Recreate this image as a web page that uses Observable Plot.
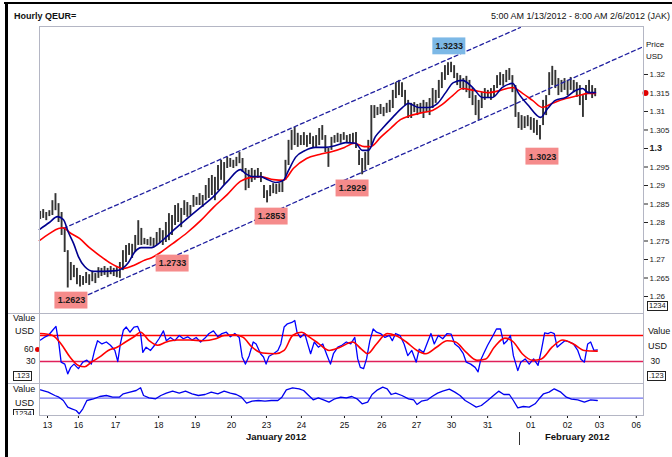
<!DOCTYPE html>
<html><head><meta charset="utf-8">
<script src="https://cdn.jsdelivr.net/npm/d3@7"></script>
<script src="https://cdn.jsdelivr.net/npm/@observablehq/plot@0.6"></script>
<style>
html,body{margin:0;padding:0;background:#fff;}
#wrap{position:relative;width:672px;height:457px;overflow:hidden;font-family:"Liberation Sans",Arial,sans-serif;color:#111;}
.ln{position:absolute;background:#b4b6c4;}
.t{position:absolute;font-size:8.5px;line-height:10px;white-space:nowrap;color:#111;}
.box{position:absolute;border:1px solid #222;padding:0 1px;font-size:7.5px;line-height:8px;color:#111;background:#fff;}
svg.plot{position:absolute;left:0;}
</style></head><body><div id="wrap"></div>
<script>
// ---------- DATA ----------
const barStart = -0.2, barStep = 1/12; // trading-day units, 2-hour bars
const hi = [1.2830,1.2835,1.2827,1.2832,1.2859,1.2878,1.2851,1.2827,1.2784,1.2724,1.2692,1.2684,1.2676,1.2657,1.2654,1.2665,1.2659,1.2668,1.2662,1.2678,1.2676,1.2681,1.2676,1.2681,1.2676,1.2678,1.2692,1.2724,1.2738,1.2743,1.2741,1.2765,1.2805,1.2784,1.2757,1.2754,1.2760,1.2757,1.2773,1.2784,1.2778,1.2800,1.2824,1.2819,1.2846,1.2851,1.2838,1.2859,1.2854,1.2846,1.2873,1.2868,1.2878,1.2873,1.2900,1.2919,1.2927,1.2922,1.2954,1.2968,1.2962,1.2976,1.2973,1.2968,1.2976,1.2989,1.2973,1.2946,1.2941,1.2946,1.2941,1.2946,1.2935,1.2900,1.2886,1.2900,1.2905,1.2903,1.2905,1.2914,1.2968,1.3022,1.3049,1.3057,1.3041,1.3035,1.3043,1.3035,1.3041,1.3032,1.3035,1.3054,1.3062,1.3035,1.3000,1.3030,1.3035,1.3041,1.3038,1.3043,1.3035,1.3038,1.3041,1.3043,1.2995,1.2973,1.2989,1.3022,1.3116,1.3116,1.3111,1.3119,1.3111,1.3122,1.3130,1.3157,1.3178,1.3184,1.3178,1.3157,1.3130,1.3122,1.3124,1.3119,1.3122,1.3130,1.3124,1.3135,1.3162,1.3157,1.3184,1.3205,1.3224,1.3232,1.3233,1.3224,1.3203,1.3197,1.3189,1.3195,1.3184,1.3162,1.3143,1.3130,1.3151,1.3162,1.3157,1.3162,1.3170,1.3197,1.3205,1.3200,1.3211,1.3216,1.3197,1.3170,1.3097,1.3089,1.3086,1.3089,1.3084,1.3081,1.3076,1.3062,1.3130,1.3143,1.3205,1.3222,1.3211,1.3189,1.3184,1.3189,1.3184,1.3192,1.3184,1.3178,1.3170,1.3143,1.3170,1.3184,1.3170,1.3162];
const lo = [1.2808,1.2811,1.2805,1.2816,1.2819,1.2832,1.2800,1.2765,1.2719,1.2623,1.2643,1.2651,1.2632,1.2626,1.2630,1.2635,1.2630,1.2640,1.2635,1.2649,1.2654,1.2657,1.2651,1.2659,1.2654,1.2651,1.2649,1.2670,1.2692,1.2711,1.2703,1.2719,1.2738,1.2738,1.2740,1.2738,1.2736,1.2733,1.2738,1.2743,1.2738,1.2746,1.2751,1.2765,1.2792,1.2800,1.2786,1.2819,1.2814,1.2819,1.2841,1.2846,1.2846,1.2841,1.2859,1.2865,1.2873,1.2859,1.2886,1.2914,1.2900,1.2946,1.2949,1.2946,1.2951,1.2959,1.2935,1.2886,1.2892,1.2908,1.2914,1.2919,1.2908,1.2865,1.2853,1.2870,1.2878,1.2876,1.2881,1.2881,1.2914,1.2954,1.2995,1.3008,1.3003,1.3008,1.3008,1.3003,1.3011,1.3000,1.3003,1.3008,1.3022,1.2989,1.2949,1.2995,1.3014,1.3016,1.3014,1.3022,1.3014,1.3016,1.3011,1.3000,1.2954,1.2929,1.2941,1.2954,1.3008,1.3081,1.3089,1.3092,1.3086,1.3095,1.3097,1.3108,1.3135,1.3143,1.3138,1.3116,1.3081,1.3081,1.3097,1.3089,1.3095,1.3081,1.3097,1.3089,1.3108,1.3122,1.3135,1.3162,1.3184,1.3197,1.3205,1.3189,1.3170,1.3162,1.3157,1.3151,1.3135,1.3116,1.3089,1.3076,1.3108,1.3130,1.3135,1.3130,1.3138,1.3162,1.3170,1.3168,1.3178,1.3184,1.3151,1.3084,1.3054,1.3049,1.3054,1.3059,1.3049,1.3041,1.3035,1.3023,1.3062,1.3089,1.3143,1.3170,1.3162,1.3143,1.3151,1.3157,1.3143,1.3157,1.3151,1.3138,1.3116,1.3084,1.3130,1.3151,1.3135,1.3140];

const fastT = [-0.22,0.05,0.27,0.43,0.57,0.71,0.84,1.01,1.25,1.52,1.88,2.04,2.20,2.36,2.55,2.83,3.02,3.21,3.48,3.80,4.16,4.51,4.89,5.24,5.38,5.57,5.79,5.92,6.20,6.41,6.55,6.74,7.01,7.28,7.55,7.83,8.10,8.37,8.56,8.72,8.91,9.10,9.38,9.65,9.81,10.08,10.35,10.60,10.82,11.03,11.28,11.55,11.82,12.09,12.36,12.64,12.80,13.07,13.40,13.59,13.80,14.08,14.35,14.54,14.70,14.89];
const fastP = [1.2781,1.2800,1.2816,1.2808,1.2773,1.2743,1.2708,1.2681,1.2668,1.2668,1.2670,1.2676,1.2692,1.2719,1.2732,1.2732,1.2743,1.2759,1.2784,1.2811,1.2841,1.2870,1.2911,1.2943,1.2932,1.2924,1.2924,1.2919,1.2908,1.2914,1.2941,1.2976,1.2995,1.3003,1.3003,1.3008,1.3016,1.3014,1.2995,1.2995,1.3032,1.3054,1.3084,1.3111,1.3122,1.3111,1.3111,1.3122,1.3151,1.3178,1.3184,1.3165,1.3138,1.3138,1.3165,1.3176,1.3149,1.3116,1.3084,1.3108,1.3130,1.3138,1.3157,1.3162,1.3151,1.3151];
const slowT = [-0.22,0.05,0.30,0.43,0.60,0.87,1.14,1.41,1.68,1.96,2.09,2.34,2.61,2.83,3.07,3.40,3.80,4.16,4.51,4.89,5.24,5.52,5.79,6.14,6.41,6.68,7.04,7.39,7.74,8.07,8.34,8.61,8.78,9.05,9.32,9.59,9.86,10.19,10.46,10.73,11.01,11.28,11.58,11.96,12.31,12.64,12.91,13.18,13.45,13.72,14.08,14.43,14.70,14.89];
const slowP = [1.2751,1.2770,1.2784,1.2786,1.2773,1.2757,1.2732,1.2711,1.2692,1.2678,1.2676,1.2684,1.2697,1.2705,1.2719,1.2743,1.2773,1.2805,1.2841,1.2876,1.2911,1.2922,1.2924,1.2916,1.2914,1.2946,1.2973,1.2984,1.2992,1.3003,1.3014,1.3005,1.3005,1.3030,1.3054,1.3078,1.3089,1.3097,1.3103,1.3119,1.3143,1.3162,1.3157,1.3151,1.3157,1.3165,1.3149,1.3130,1.3111,1.3122,1.3135,1.3143,1.3149,1.3149];

const chanUpT = [0.43, 12.85], chanUpP = [1.2784, 1.3327];
const chanLoT = [1.11, 16.14], chanLoP = [1.2605, 1.3273];

const annT = [0.65, 3.40, 6.09, 8.29, 10.92, 13.45];
const annP = [1.2589, 1.2689, 1.2816, 1.2892, 1.3276, 1.2978];
const annLabel = ["1.2623","1.2733","1.2853","1.2929","1.3233","1.3023"];
const annColor = ["#f58b8b","#f58b8b","#f58b8b","#f58b8b","#7cb8e6","#f58b8b"];
const lastPrice = 1.3150;

const priceTicks = [1.26,1.265,1.27,1.275,1.28,1.285,1.29,1.295,1.3,1.305,1.31,1.315,1.32];

const rsiT = [-0.19,-0.09,0.02,0.14,0.23,0.31,0.37,0.47,0.55,0.63,0.72,0.84,0.96,1.07,1.19,1.28,1.36,1.48,1.60,1.71,1.83,1.91,1.98,2.06,2.14,2.24,2.35,2.45,2.53,2.59,2.68,2.80,2.91,3.03,3.15,3.23,3.34,3.46,3.58,3.69,3.81,3.93,4.04,4.16,4.28,4.39,4.51,4.63,4.74,4.86,4.97,5.09,5.21,5.29,5.38,5.48,5.59,5.67,5.79,5.87,5.94,6.02,6.14,6.26,6.34,6.43,6.52,6.64,6.72,6.78,6.87,6.99,7.07,7.15,7.25,7.36,7.48,7.60,7.69,7.77,7.89,8.00,8.12,8.24,8.35,8.43,8.50,8.59,8.67,8.76,8.85,8.94,9.05,9.17,9.29,9.37,9.46,9.58,9.69,9.79,9.90,10.02,10.10,10.22,10.33,10.42,10.51,10.62,10.74,10.86,10.97,11.07,11.18,11.30,11.38,11.50,11.62,11.70,11.77,11.85,11.96,12.08,12.20,12.31,12.40,12.49,12.58,12.66,12.78,12.86,12.98,13.09,13.21,13.33,13.42,13.51,13.60,13.68,13.77,13.85,13.95,14.06,14.18,14.29,14.41,14.49,14.59,14.68,14.76,14.85,14.94];
const rsiV = [63,67,70,78,84,57,29,26,11,21,26,19,29,32,26,47,62,57,60,55,47,30,57,78,83,75,83,84,73,44,52,47,55,65,77,62,67,62,70,65,68,63,67,60,66,73,77,68,73,75,68,73,67,37,26,39,60,57,42,37,26,38,42,47,57,83,88,90,93,75,67,73,57,42,60,52,57,39,26,42,52,55,60,57,67,34,21,19,34,62,80,75,73,67,70,62,73,70,57,39,47,29,49,44,60,73,57,70,65,73,72,57,52,42,29,26,21,14,32,42,55,67,80,80,57,62,70,39,16,29,34,26,34,24,47,74,73,75,73,52,57,62,60,57,47,34,29,57,60,47,48];
const rsiMaT = [-0.19,0.14,0.37,0.61,0.84,1.01,1.19,1.42,1.65,1.89,2.12,2.35,2.53,2.76,2.99,3.23,3.52,3.87,4.22,4.57,4.80,5.09,5.32,5.56,5.85,6.20,6.43,6.66,6.90,7.13,7.36,7.65,7.95,8.29,8.53,8.70,8.94,9.23,9.46,9.75,10.04,10.28,10.57,10.86,11.09,11.38,11.67,11.91,12.14,12.43,12.66,12.90,13.19,13.42,13.71,14.00,14.29,14.59,14.94];
const rsiMaV = [73,70,57,37,24,22,29,37,47,52,60,68,75,62,55,60,63,63,62,65,70,71,67,52,43,42,47,70,75,67,58,47,52,60,49,42,57,73,70,60,47,42,52,62,60,44,32,34,52,66,60,42,32,34,52,63,57,47,46];
const rsiUpper = 70, rsiLower = 30;
const rsiLast = 48.5, rsiLastLabel = "60";

const momT = [-0.19,0.02,0.20,0.31,0.43,0.55,0.66,0.78,0.86,0.96,1.07,1.25,1.42,1.60,1.77,1.95,2.06,2.24,2.41,2.53,2.61,2.76,2.94,3.08,3.23,3.40,3.58,3.75,3.93,4.10,4.28,4.45,4.63,4.80,4.97,5.13,5.27,5.41,5.56,5.73,5.91,6.08,6.26,6.37,6.49,6.66,6.84,6.96,7.07,7.22,7.36,7.50,7.65,7.81,7.97,8.12,8.27,8.41,8.55,8.70,8.82,8.97,9.11,9.23,9.34,9.46,9.63,9.81,9.95,10.04,10.16,10.33,10.45,10.60,10.74,10.92,11.07,11.21,11.35,11.50,11.65,11.79,11.96,12.12,12.26,12.40,12.55,12.66,12.78,12.93,13.09,13.25,13.36,13.48,13.63,13.77,13.95,14.10,14.24,14.41,14.59,14.76,14.94];
const momV = [1.67,1.2,0.53,0.2,-0.47,-1.8,-2.13,-2.47,-3.13,-2.13,-0.47,-0.13,0.33,0.53,0.2,0.2,0.87,1.2,1.53,2.07,0.53,0.07,-0.13,0.53,1.0,1.4,1.0,1.4,0.87,0.53,0.73,1.2,0.87,1.4,1.0,0.73,0.2,-1.0,-0.6,-0.47,-0.6,-0.47,-0.47,0.2,1.67,2.07,1.87,1.53,0.73,-0.33,0.07,-0.33,-0.8,-0.13,0.2,0.07,0.33,-0.13,-1.13,-0.8,0.73,1.67,2.2,1.87,0.73,1.0,0.53,-0.13,-0.33,-1.27,-0.6,-0.33,0.33,1.0,1.4,1.8,1.2,0.53,-0.47,-1.13,-1.8,-1.47,-0.47,0.53,1.4,0.73,0.73,-0.47,-1.93,-1.67,-1.8,-1.13,-0.13,0.87,1.2,1.87,1.2,0.2,-0.2,-0.33,-0.8,-0.33,-0.47];

const dayTicks = [0,0.84,1.85,3.02,4.02,5.0,5.95,6.9,8.07,9.08,10.03,10.98,11.96,13.13,14.13,15.0,16.0];
const dayLabels = ["13","16","17","18","19","20","23","24","25","26","27","30","31","01","02","03","06"];

// ---------- LAYOUT ----------
const W = 672, ML = 39, MR = 29;
const X_DOMAIN = [-0.2174, 16.196];
const FONT = "Liberation Sans, Arial, sans-serif";
const wrap = document.getElementById("wrap");

function line(l, t, w, h, color) {
  const d = document.createElement("div"); d.className = "ln";
  Object.assign(d.style, {left: l+"px", top: t+"px", width: w+"px", height: h+"px"});
  if (color) d.style.background = color;
  wrap.appendChild(d); return d;
}
function text(str, l, t, css) {
  const d = document.createElement("div"); d.className = "t"; d.textContent = str;
  Object.assign(d.style, {left: l+"px", top: t+"px"}, css || {});
  wrap.appendChild(d); return d;
}
function box(str, l, t) {
  const d = document.createElement("div"); d.className = "box"; d.textContent = str;
  Object.assign(d.style, {left: l+"px", top: t+"px"});
  wrap.appendChild(d); return d;
}
function mount(svg, top) { svg.style.top = top + "px"; wrap.appendChild(svg); }

// frame
line(4, 2, 668, 2, "#000");
line(5, 2, 3, 455, "#000");
text("Hourly QEUR=", 14, 11, {fontWeight: "bold", fontSize: "9px"});
text("5:00 AM 1/13/2012 - 8:00 AM 2/6/2012 (JAK)", 0, 11, {fontSize: "9px", left: "auto", right: "2px"});
line(39, 26, 605, 1);
line(39, 26, 1, 389);
line(643, 26, 1, 389);
line(8, 313, 636, 1);
line(8, 383, 636, 1);
line(39, 415, 605, 1);

// ---------- MAIN PRICE PANEL ----------
const bars = hi.map((h, i) => ({t: barStart + i * barStep, hi: h, lo: lo[i]}));
const fast = fastT.map((t, i) => ({t, p: fastP[i]}));
const slow = slowT.map((t, i) => ({t, p: slowP[i]}));
const chanUp = chanUpT.map((t, i) => ({t, p: chanUpP[i]}));
const chanLo = chanLoT.map((t, i) => ({t, p: chanLoP[i]}));
const ann = annT.map((t, i) => ({t, p: annP[i], label: annLabel[i], color: annColor[i]}));
const halfW = 16.5 / 36.8, halfH = 0.00228;

const main = Plot.plot({
  width: W, height: 313, marginTop: 26, marginBottom: 0, marginLeft: ML, marginRight: MR,
  style: {background: "transparent", fontFamily: FONT, fontSize: "8px", color: "#222", overflow: "visible"},
  x: {domain: X_DOMAIN, axis: null},
  y: {domain: [1.25541, 1.33297], axis: "right", ticks: priceTicks, tickSize: 4, tickPadding: 2,
      tickFormat: d => String(+d.toFixed(3)), label: null},
  marks: [
    Plot.ruleX(bars, {x: "t", y1: "lo", y2: "hi", stroke: "#333333", strokeWidth: 1.9}),
    Plot.line(chanUp, {x: "t", y: "p", stroke: "#2020a0", strokeWidth: 1.3, strokeDasharray: "4,3"}),
    Plot.line(chanLo, {x: "t", y: "p", stroke: "#2020a0", strokeWidth: 1.3, strokeDasharray: "4,3"}),
    Plot.line(slow, {x: "t", y: "p", stroke: "#ff0000", strokeWidth: 1.6, curve: "monotone-x"}),
    Plot.line(fast, {x: "t", y: "p", stroke: "#00008f", strokeWidth: 1.6, curve: "monotone-x"}),
    Plot.rect(ann, {x1: d => d.t - halfW, x2: d => d.t + halfW, y1: d => d.p - halfH, y2: d => d.p + halfH, fill: "color"}),
    Plot.text(ann, {x: "t", y: "p", text: "label", fontWeight: "bold", fontSize: 9, fill: "#1a1a1a"}),
    Plot.dot([lastPrice], {x: () => X_DOMAIN[1], y: d => d, fill: "#e00000", r: 3, dx: 2})
  ]
});
d3.select(main).selectAll("text").filter(function(){ return this.textContent === "1.3"; })
  .attr("font-weight", "bold").attr("font-size", 9);
mount(main, 0);
text("Price", 646, 40, {fontSize: "8px"});
text("USD", 646, 52, {fontSize: "8px"});
box("1234", 647, 301);

// ---------- RSI PANEL ----------
const rsi = rsiT.map((t, i) => ({t, v: rsiV[i]}));
const rsiMa = rsiMaT.map((t, i) => ({t, v: rsiMaV[i]}));
const rsiPlot = Plot.plot({
  width: W, height: 70, marginTop: 0, marginBottom: 0, marginLeft: ML, marginRight: MR,
  style: {background: "transparent", fontFamily: FONT, fontSize: "8.5px", color: "#111", overflow: "visible"},
  x: {domain: X_DOMAIN, axis: null},
  y: {domain: [-3.8, 103.8]},
  marks: [
    Plot.ruleY([rsiUpper], {stroke: "red", strokeWidth: 1.4}),
    Plot.ruleY([rsiLower], {stroke: "#e0205a", strokeWidth: 1.4}),
    Plot.line(rsi, {x: "t", y: "v", stroke: "#0000ff", strokeWidth: 1.3}),
    Plot.line(rsiMa, {x: "t", y: "v", stroke: "#ff0000", strokeWidth: 1.6, curve: "monotone-x"}),
    Plot.axisY({anchor: "left", ticks: [rsiLower], tickSize: 0, tickPadding: 4, label: null}),
    Plot.axisY({anchor: "right", ticks: [rsiLower], tickSize: 0, tickPadding: 7, label: null}),
    Plot.text([rsiLastLabel], {x: () => X_DOMAIN[0], y: () => rsiLast, text: d => d, dx: -6, textAnchor: "end", fill: "#111"}),
    Plot.dot([rsiLast], {x: () => X_DOMAIN[0], y: d => d, fill: "#e00000", r: 2.5, dx: -2})
  ]
});
d3.select(rsiPlot).selectAll("g[aria-label='rule'] line").attr("stroke", null);
mount(rsiPlot, 313);
text("Value", 13, 313, {fontSize: "9px"});
text("USD", 15, 326, {fontSize: "9px"});
box(".123", 13, 371);
text("Value", 648, 326, {fontSize: "9px"});
text("USD", 648, 341, {fontSize: "9px"});
box(".123", 647, 371);

// ---------- MOMENTUM PANEL + X AXIS ----------
const mom = momT.map((t, i) => ({t, v: momV[i]}));
const momPlot = Plot.plot({
  width: W, height: 74, marginTop: 0, marginBottom: 42, marginLeft: ML, marginRight: MR,
  style: {background: "transparent", fontFamily: FONT, fontSize: "8.5px", color: "#111", overflow: "visible"},
  x: {domain: X_DOMAIN, ticks: dayTicks, tickFormat: (d, i) => dayLabels[i], tickSize: 3, tickPadding: 3, label: null},
  y: {domain: [-3.47, 2.93], axis: null},
  marks: [
    Plot.ruleY([0], {stroke: "#6f6ff0", strokeWidth: 1.2}),
    Plot.line(mom, {x: "t", y: "v", stroke: "#0000ee", strokeWidth: 1.3})
  ]
});
mount(momPlot, 383);
text("Value", 13, 384, {fontSize: "9px"});
text("USD", 15, 398, {fontSize: "9px"});
const clip = document.createElement("div");
Object.assign(clip.style, {position: "absolute", left: "13px", top: "409px", width: "24px", height: "6px", overflow: "hidden"});
const cb = document.createElement("div"); cb.className = "box"; cb.textContent = "1234";
Object.assign(cb.style, {left: "0px", top: "0px"});
clip.appendChild(cb); wrap.appendChild(clip);

text("January 2012", 246, 432, {fontWeight: "bold", fontSize: "9.5px"});
text("February 2012", 545, 432, {fontWeight: "bold", fontSize: "9.5px"});
line(519, 432, 1, 13, "#333");
</script></body></html>
